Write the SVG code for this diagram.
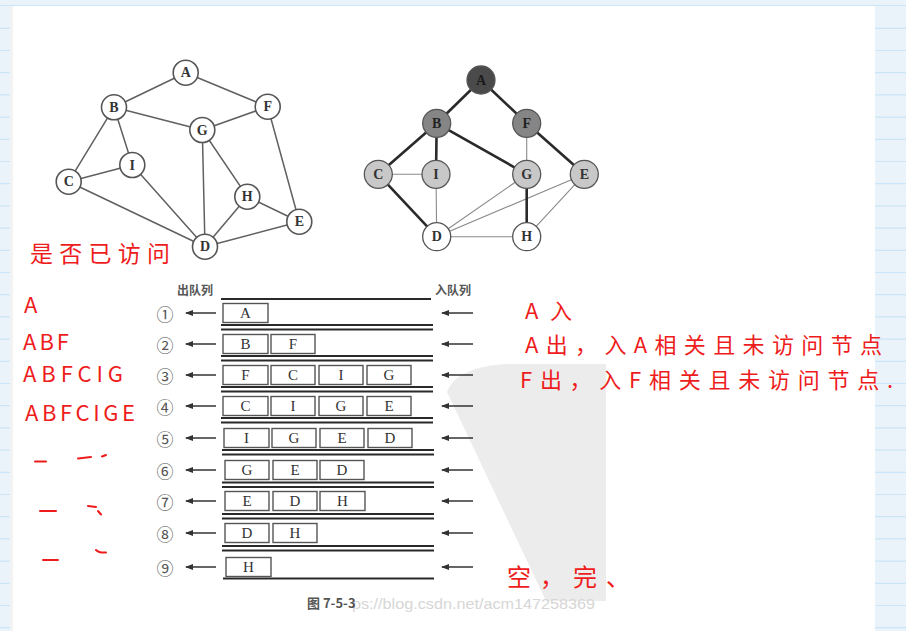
<svg xmlns="http://www.w3.org/2000/svg" width="906" height="631" viewBox="0 0 906 631">
<defs>
<style>
.bg{fill:#eaf2fa}
.nl{stroke:#cbe6f8;stroke-width:1.2}
.e1{stroke:#606060;stroke-width:1.5;fill:none}
.n1{fill:#fff;stroke:#555;stroke-width:1.6}
.lt{font-family:"Liberation Serif",serif;font-weight:bold;font-size:14px;fill:#333;text-anchor:middle;dominant-baseline:central}
.n2{stroke:#555;stroke-width:1.3}
.thick{stroke:#2a2a2a;stroke-width:2.6;fill:none}
.thin{stroke:#8a8a8a;stroke-width:1.1;fill:none}
.rl{stroke:#2a2a2a;stroke-width:2}
.box{fill:#fff;stroke:#555;stroke-width:1.4}
.bt{font-family:"Liberation Serif",serif;font-size:15px;fill:#333;text-anchor:middle;dominant-baseline:central}
.cn{font-family:"Noto Sans CJK SC",sans-serif;font-size:17px;fill:#555;text-anchor:middle;dominant-baseline:central}
.ar{stroke:#333;stroke-width:1.5;fill:none}
.cap{font-family:"Noto Sans CJK SC",sans-serif;font-size:12px;font-weight:bold;fill:#555}
.hw{font-family:"Noto Sans CJK SC",sans-serif;fill:#ee1c1c}
.dm{stroke:#ee1c1c;stroke-width:2;fill:none;stroke-linecap:round}
</style>
<marker id="ah" markerWidth="8" markerHeight="6" refX="7" refY="3" orient="auto" markerUnits="userSpaceOnUse">
<path d="M0,0 L8,3 L0,6 Z" fill="#333"/>
</marker>
</defs>

<!-- notebook background -->
<rect width="906" height="631" fill="#fff"/>
<rect class="bg" x="0" y="0" width="906" height="5"/>
<line x1="0" y1="5.5" x2="906" y2="5.5" class="nl"/>
<rect class="bg" x="0" y="6" width="10" height="625"/>
<rect x="10" y="6" width="3" height="625" fill="#f3f3f3"/>
<rect class="bg" x="875" y="6" width="31" height="625"/>
<g id="ruling">
<path class="nl" d="M0 28.3H10M0 50.5H10M0 72.7H10M0 94.9H10M0 117.1H10M0 139.3H10M0 161.5H10M0 183.7H10M0 205.9H10M0 228.1H10M0 250.3H10M0 272.5H10M0 294.7H10M0 316.9H10M0 339.1H10M0 361.3H10M0 383.5H10M0 405.7H10M0 427.9H10M0 450.1H10M0 472.3H10M0 494.5H10M0 516.7H10M0 538.9H10M0 561.1H10M0 583.3H10M0 605.5H10M0 627.7H10"/>
<path class="nl" d="M875 28.3H906M875 50.5H906M875 72.7H906M875 94.9H906M875 117.1H906M875 139.3H906M875 161.5H906M875 183.7H906M875 205.9H906M875 228.1H906M875 250.3H906M875 272.5H906M875 294.7H906M875 316.9H906M875 339.1H906M875 361.3H906M875 383.5H906M875 405.7H906M875 427.9H906M875 450.1H906M875 472.3H906M875 494.5H906M875 516.7H906M875 538.9H906M875 561.1H906M875 583.3H906M875 605.5H906M875 627.7H906"/>
</g>

<!-- watermark blob -->
<path d="M606 364 L505 364 Q455 368 447 392 L546 601 L606 601 Z" fill="#ececec"/>
<text x="352" y="609" font-family="Liberation Sans,sans-serif" font-size="14" fill="#d6d6d6" textLength="243" lengthAdjust="spacingAndGlyphs">ps://blog.csdn.net/acm147258369</text>

<!-- LEFT GRAPH -->
<g id="left-edges">
<path class="e1" d="M185.7 72.7L114 107.3M185.7 72.7L267.7 106.7M114 107.3L202.3 130M202.3 130L267.7 106.7M114 107.3L68.7 181.7M114 107.3L132.3 165M68.7 181.7L132.3 165M68.7 181.7L205 246.7M132.3 165L205 246.7M202.3 130L205 246.7M202.3 130L247.3 196.7M247.3 196.7L205 246.7M247.3 196.7L299.3 221.7M267.7 106.7L299.3 221.7M205 246.7L299.3 221.7"/>
</g>
<g id="L-A"><circle class="n1" cx="185.7" cy="72.7" r="12.5"/><text class="lt" x="185.7" y="72.7">A</text></g>
<g id="L-B"><circle class="n1" cx="114" cy="107.3" r="12.5"/><text class="lt" x="114" y="107.3">B</text></g>
<g id="L-F"><circle class="n1" cx="267.7" cy="106.7" r="12.5"/><text class="lt" x="267.7" y="106.7">F</text></g>
<g id="L-G"><circle class="n1" cx="202.3" cy="130" r="12.5"/><text class="lt" x="202.3" y="130">G</text></g>
<g id="L-I"><circle class="n1" cx="132.3" cy="165" r="12.5"/><text class="lt" x="132.3" y="165">I</text></g>
<g id="L-C"><circle class="n1" cx="68.7" cy="181.7" r="12.5"/><text class="lt" x="68.7" y="181.7">C</text></g>
<g id="L-H"><circle class="n1" cx="247.3" cy="196.7" r="12.5"/><text class="lt" x="247.3" y="196.7">H</text></g>
<g id="L-E"><circle class="n1" cx="299.3" cy="221.7" r="12.5"/><text class="lt" x="299.3" y="221.7">E</text></g>
<g id="L-D"><circle class="n1" cx="205" cy="246.7" r="12.5"/><text class="lt" x="205" y="246.7">D</text></g>

<!-- RIGHT GRAPH -->
<g id="right-edges">
<path class="thin" d="M526.7 123.3L526.7 174.3M378.3 174.3L436 174.3M436 174.3L436.7 236.7M526.7 174.3L436.7 236.7M584.3 174.3L436.7 236.7M584.3 174.3L526.7 236.7M436.7 236.7L526.7 236.7"/>
<path class="thick" d="M481 80L436.7 123.3M481 80L526.7 123.3M436.7 123.3L378.3 174.3M436.7 123.3L436 174.3M436.7 123.3L526.7 174.3M526.7 123.3L584.3 174.3M378.3 174.3L436.7 236.7M526.7 174.3L526.7 236.7"/>
</g>
<g id="R-A"><circle class="n2" cx="481" cy="80" r="14" fill="#4a4a4a"/><text class="lt" x="481" y="80" style="fill:#1a1a1a">A</text></g>
<g id="R-B"><circle class="n2" cx="436.7" cy="123.3" r="14" fill="#858585"/><text class="lt" x="436.7" y="123.3" style="fill:#222">B</text></g>
<g id="R-F"><circle class="n2" cx="526.7" cy="123.3" r="14" fill="#858585"/><text class="lt" x="526.7" y="123.3" style="fill:#222">F</text></g>
<g id="R-C"><circle class="n2" cx="378.3" cy="174.3" r="14" fill="#c8c8c8"/><text class="lt" x="378.3" y="174.3">C</text></g>
<g id="R-I"><circle class="n2" cx="436" cy="174.3" r="14" fill="#c8c8c8"/><text class="lt" x="436" y="174.3">I</text></g>
<g id="R-G"><circle class="n2" cx="526.7" cy="174.3" r="14" fill="#c8c8c8"/><text class="lt" x="526.7" y="174.3">G</text></g>
<g id="R-E"><circle class="n2" cx="584.3" cy="174.3" r="14" fill="#c8c8c8"/><text class="lt" x="584.3" y="174.3">E</text></g>
<g id="R-D"><circle class="n2" cx="436.7" cy="236.7" r="14" fill="#fff"/><text class="lt" x="436.7" y="236.7">D</text></g>
<g id="R-H"><circle class="n2" cx="526.7" cy="236.7" r="14" fill="#fff"/><text class="lt" x="526.7" y="236.7">H</text></g>

<!-- QUEUE -->
<text class="cap" x="177" y="295">出队列</text>
<text class="cap" x="435" y="295">入队列</text>
<g id="queue-lines">
<path class="rl" d="M221 299H431M221 325H433M221 329.5H433M221 356H433M221 360.5H433M221 387H433M221 391.5H433M221 418H433M221 422.5H433M222 450H434M222 454.5H434M222 482.5H434M222 487H434M222 514H434M222 518.5H434M222 546H434M222 550.5H434M223 578.5H434"/>
</g>
<g id="arrows">
<path class="ar" marker-end="url(#ah)" d="M216 313H186"/>
<path class="ar" marker-end="url(#ah)" d="M216 344H186"/>
<path class="ar" marker-end="url(#ah)" d="M216 375H186"/>
<path class="ar" marker-end="url(#ah)" d="M216 406H186"/>
<path class="ar" marker-end="url(#ah)" d="M216 438H186"/>
<path class="ar" marker-end="url(#ah)" d="M216 470H186"/>
<path class="ar" marker-end="url(#ah)" d="M216 501H186"/>
<path class="ar" marker-end="url(#ah)" d="M216 533H186"/>
<path class="ar" marker-end="url(#ah)" d="M216 567H186"/>
<path class="ar" marker-end="url(#ah)" d="M473 313H442"/>
<path class="ar" marker-end="url(#ah)" d="M473 344H442"/>
<path class="ar" marker-end="url(#ah)" d="M473 375H442"/>
<path class="ar" marker-end="url(#ah)" d="M473 406H442"/>
<path class="ar" marker-end="url(#ah)" d="M473 438H442"/>
<path class="ar" marker-end="url(#ah)" d="M473 470H442"/>
<path class="ar" marker-end="url(#ah)" d="M473 501H442"/>
<path class="ar" marker-end="url(#ah)" d="M473 533H442"/>
<path class="ar" marker-end="url(#ah)" d="M473 567H442"/>
</g>
<g id="row1"><text class="cn" x="165" y="313">①</text>
<rect class="box" x="223" y="303.5" width="45" height="19"/><text class="bt" x="245.5" y="313">A</text></g>
<g id="row2"><text class="cn" x="165" y="344">②</text>
<rect class="box" x="223" y="334.5" width="45" height="19"/><text class="bt" x="245.5" y="344">B</text>
<rect class="box" x="271" y="334.5" width="44" height="19"/><text class="bt" x="293" y="344">F</text></g>
<g id="row3"><text class="cn" x="165" y="375">③</text>
<rect class="box" x="223" y="365.5" width="45" height="19"/><text class="bt" x="245.5" y="375">F</text>
<rect class="box" x="271" y="365.5" width="44" height="19"/><text class="bt" x="293" y="375">C</text>
<rect class="box" x="319" y="365.5" width="44" height="19"/><text class="bt" x="341" y="375">I</text>
<rect class="box" x="367" y="365.5" width="44" height="19"/><text class="bt" x="389" y="375">G</text></g>
<g id="row4"><text class="cn" x="165" y="406">④</text>
<rect class="box" x="223" y="396.5" width="45" height="19"/><text class="bt" x="245.5" y="406">C</text>
<rect class="box" x="271" y="396.5" width="44" height="19"/><text class="bt" x="293" y="406">I</text>
<rect class="box" x="319" y="396.5" width="44" height="19"/><text class="bt" x="341" y="406">G</text>
<rect class="box" x="367" y="396.5" width="44" height="19"/><text class="bt" x="389" y="406">E</text></g>
<g id="row5"><text class="cn" x="165" y="438">⑤</text>
<rect class="box" x="224" y="428.5" width="45" height="19"/><text class="bt" x="246.5" y="438">I</text>
<rect class="box" x="272" y="428.5" width="44" height="19"/><text class="bt" x="294" y="438">G</text>
<rect class="box" x="320" y="428.5" width="44" height="19"/><text class="bt" x="342" y="438">E</text>
<rect class="box" x="368" y="428.5" width="44" height="19"/><text class="bt" x="390" y="438">D</text></g>
<g id="row6"><text class="cn" x="165" y="470">⑥</text>
<rect class="box" x="225" y="460.5" width="44" height="19"/><text class="bt" x="247" y="470">G</text>
<rect class="box" x="273" y="460.5" width="44" height="19"/><text class="bt" x="295" y="470">E</text>
<rect class="box" x="320" y="460.5" width="44" height="19"/><text class="bt" x="342" y="470">D</text></g>
<g id="row7"><text class="cn" x="165" y="501">⑦</text>
<rect class="box" x="225" y="491.5" width="44" height="19"/><text class="bt" x="247" y="501">E</text>
<rect class="box" x="273" y="491.5" width="44" height="19"/><text class="bt" x="295" y="501">D</text>
<rect class="box" x="320" y="491.5" width="45" height="19"/><text class="bt" x="342.5" y="501">H</text></g>
<g id="row8"><text class="cn" x="165" y="533">⑧</text>
<rect class="box" x="225" y="523.5" width="44" height="19"/><text class="bt" x="247" y="533">D</text>
<rect class="box" x="273" y="523.5" width="44" height="19"/><text class="bt" x="295" y="533">H</text></g>
<g id="row9"><text class="cn" x="165" y="567">⑨</text>
<rect class="box" x="226" y="557.5" width="45" height="19"/><text class="bt" x="248.5" y="567">H</text></g>
<text x="307" y="608" font-family="Noto Sans CJK SC,sans-serif" font-size="13" font-weight="bold" fill="#555">图 7-5-3</text>

<!-- HANDWRITTEN NOTES -->
<g id="notes-left">
<text class="hw" x="30" y="262" font-size="23" textLength="140" lengthAdjust="spacing">是否已访问</text>
<text class="hw" x="24" y="313" font-size="22">A</text>
<text class="hw" x="23" y="350" font-size="22" textLength="46" lengthAdjust="spacing">ABF</text>
<text class="hw" x="23" y="382" font-size="22" textLength="100" lengthAdjust="spacing">ABFCIG</text>
<text class="hw" x="25" y="421" font-size="22" textLength="110" lengthAdjust="spacing">ABFCIGE</text>
<path class="dm" d="M35 461.5H46M78 458.5L91 457M102 456.5L106 455M40 511H56M88 506L96 507M98 511L101 514.5M43 560H58M96 550Q99 553 106 552.5"/>
</g>
<g id="notes-right">
<text class="hw" x="525" y="319" font-size="22" textLength="47" lengthAdjust="spacing">A入</text>
<text class="hw" x="525" y="353" font-size="22" textLength="357" lengthAdjust="spacing">A出，入A相关且未访问节点</text>
<text class="hw" x="520" y="388" font-size="22" textLength="373" lengthAdjust="spacing">F出，入F相关且未访问节点.</text>
<text class="hw" x="507" y="586" font-size="24" textLength="123" lengthAdjust="spacing">空，完、</text>
</g>
</svg>
